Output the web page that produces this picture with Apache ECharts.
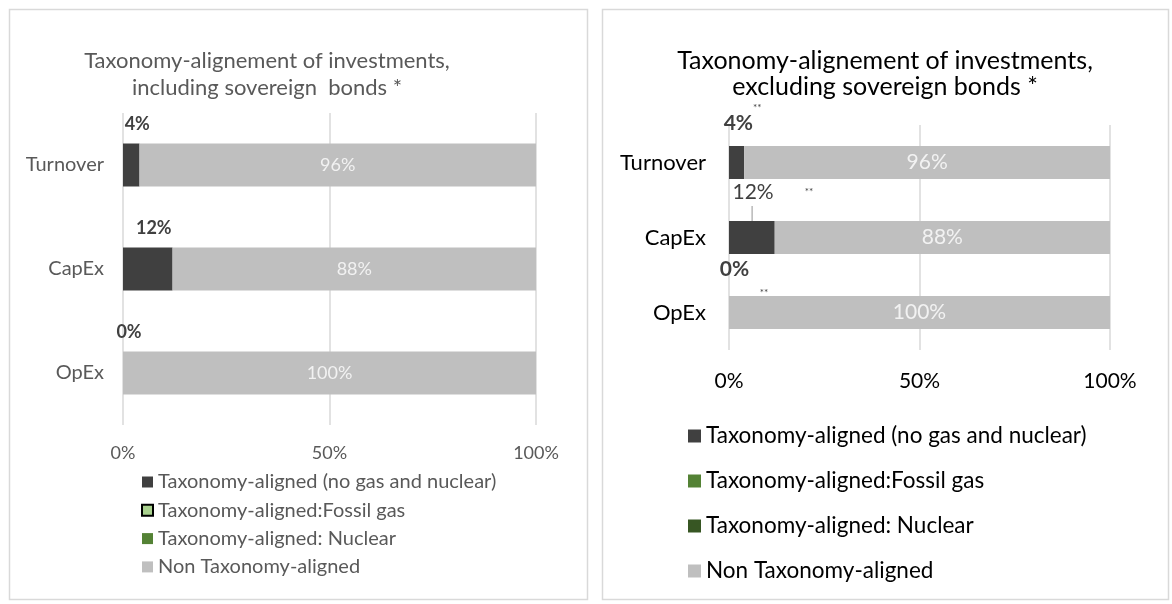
<!DOCTYPE html>
<html>
<head>
<meta charset="utf-8">
<script src="https://cdn.jsdelivr.net/npm/echarts@6/dist/echarts.min.js"></script>
<style>
  html, body { margin: 0; padding: 0; background: #fff; }
  #chart { width: 1172px; height: 604px; }
</style>
</head>
<body>
<div id="chart"></div>
<script>
// categories and values (percent)
var categories = ['Turnover', 'CapEx', 'OpEx'];
var seriesNames = ['Taxonomy-aligned (no gas and nuclear)', 'Taxonomy-aligned:Fossil gas',
    'Taxonomy-aligned: Nuclear', 'Non Taxonomy-aligned'];

var alignedIncl = [4, 12, 0];
var fossilIncl = [0, 0, 0];
var nuclearIncl = [0, 0, 0];
var nonAlignedIncl = [96, 88, 100];

var alignedExcl = [4, 12, 0];
var fossilExcl = [0, 0, 0];
var nuclearExcl = [0, 0, 0];
var nonAlignedExcl = [96, 88, 100];

// footnote marks written next to the right chart labels
var exclNotes = ['**', '**', '**'];

var xTicks = [0, 50, 100];

var titleIncl = 'Taxonomy-alignement of investments,\nincluding sovereign  bonds *';
var titleExcl = 'Taxonomy-alignement of investments,\nexcluding sovereign bonds *';

var FONT = 'Lato, "Open Sans", sans-serif';
var chart = echarts.init(document.getElementById('chart'));

function xAxis(gridIndex, size, color, margin) {
    return {
        type: 'value', gridIndex: gridIndex, min: xTicks[0], max: xTicks[xTicks.length - 1],
        interval: xTicks[1] - xTicks[0],
        axisLine: {show: false}, axisTick: {show: false},
        splitLine: {lineStyle: {color: '#d9d9d9', width: 1.5}},
        axisLabel: {formatter: '{value}%', fontFamily: FONT, fontSize: size, color: color, margin: margin}
    };
}

function yAxis(gridIndex, size, color, margin) {
    return {
        type: 'category', gridIndex: gridIndex, data: categories, inverse: true,
        axisLine: {show: false}, axisTick: {show: false},
        axisLabel: {fontFamily: FONT, fontSize: size, color: color, margin: margin}
    };
}

function bar(name, data, idx, color, width, label) {
    return {
        type: 'bar', name: name, data: data, stack: 's' + idx, xAxisIndex: idx, yAxisIndex: idx,
        barWidth: width, itemStyle: {color: color}, label: label || {show: false},
        silent: true, animation: false
    };
}

var grayLabelIncl = {show: true, position: 'inside', formatter: '{c}%', color: '#f2f2f2',
    fontFamily: FONT, fontSize: 18};
var grayLabelExcl = {show: true, position: 'inside', formatter: '{c}%', color: '#f2f2f2',
    fontFamily: FONT, fontSize: 21};

var darkLabelIncl = {show: true, position: 'top', distance: 10, offset: [6, 0], formatter: '{c}%',
    color: '#404040', fontWeight: 'bold', fontFamily: FONT, fontSize: 18};

// right chart labels: each one carries its footnote mark
var exclLabelOffsets = [[6, -3], [21, 0], [15, 9]];
var alignedExclData = alignedExcl.map(function (v, i) {
    return {value: v, label: {offset: exclLabelOffsets[i]}};
});
var darkLabelExcl = {
    show: true, position: 'top', distance: 0,
    formatter: function (p) {
        var n = exclNotes[p.dataIndex];
        if (p.dataIndex === 0) return '{b|' + p.value + '%}{sup|' + n + '}';
        if (p.dataIndex === 1) return '{r|' + p.value + '%}{mid|' + n + '}\n{sp|}{ln|}';
        return '{b2|' + p.value + '%}\n{sp2|}{low|' + n + '}';
    },
    rich: {
        b: {fontFamily: FONT, fontSize: 21, fontWeight: 'bold', color: '#404040', lineHeight: 40},
        b2: {fontFamily: FONT, fontSize: 21, fontWeight: 'bold', color: '#404040', lineHeight: 24, align: 'left'},
        r: {fontFamily: FONT, fontSize: 21, color: '#404040', lineHeight: 28},
        sup: {fontFamily: FONT, fontSize: 10, color: '#404040', verticalAlign: 'top', lineHeight: 12},
        mid: {fontFamily: FONT, fontSize: 10, color: '#404040', padding: [0, 0, 0, 31]},
        low: {fontFamily: FONT, fontSize: 10, color: '#404040', lineHeight: 24, align: 'left'},
        sp: {width: 19, height: 15, align: 'left'},
        ln: {width: 1.2, height: 15, backgroundColor: '#a6a6a6', align: 'left'},
        sp2: {width: 40, height: 24, align: 'left'}
    }
};

var option = {
    backgroundColor: '#fff',
    animation: false,
    graphic: [
        {type: 'rect', left: 7, top: 7, shape: {width: 578, height: 590},
            style: {fill: 'none', stroke: '#d9d9d9', lineWidth: 1.5}, z: -10},
        {type: 'rect', left: 600, top: 7, shape: {width: 566, height: 590},
            style: {fill: 'none', stroke: '#d9d9d9', lineWidth: 1.5}, z: -10}
    ],
    title: [
        {text: titleIncl, left: 262, top: 42, textAlign: 'center',
            textStyle: {fontFamily: FONT, fontSize: 22, fontWeight: 'normal', color: '#595959', lineHeight: 27}},
        {text: titleExcl, left: 880, top: 43, textAlign: 'center',
            textStyle: {fontFamily: FONT, fontSize: 25, fontWeight: 'normal', color: '#000', lineHeight: 26}}
    ],
    legend: [
        {
            orient: 'vertical', left: 136, top: 467, itemWidth: 11, itemHeight: 11, itemGap: 8.3,
            icon: 'rect', selectedMode: false,
            textStyle: {fontFamily: FONT, fontSize: 20, color: '#595959', lineHeight: 20},
            data: [
                {name: seriesNames[0]},
                {name: seriesNames[1], itemStyle: {color: '#a9d18e', borderColor: '#000', borderWidth: 2}},
                {name: seriesNames[2]},
                {name: seriesNames[3]}
            ]
        },
        {
            orient: 'vertical', left: 683, top: 419, itemWidth: 13, itemHeight: 13, itemGap: 21,
            icon: 'rect', selectedMode: false,
            textStyle: {fontFamily: FONT, fontSize: 22.5, color: '#000', lineHeight: 24},
            data: [
                {name: seriesNames[0], itemStyle: {color: '#404040'}},
                {name: seriesNames[1], itemStyle: {color: '#548235', borderWidth: 0}},
                {name: seriesNames[2], itemStyle: {color: '#375623'}},
                {name: seriesNames[3], itemStyle: {color: '#bfbfbf'}}
            ]
        }
    ],
    grid: [
        {left: 123, top: 113, width: 413, height: 312},
        {left: 729, top: 125, width: 381, height: 225}
    ],
    xAxis: [xAxis(0, 18, '#595959', 19), xAxis(1, 21, '#000', 21)],
    yAxis: [yAxis(0, 20, '#595959', 19), yAxis(1, 22, '#000', 23)],
    series: [
        bar(seriesNames[0], alignedIncl, 0, '#404040', 43, darkLabelIncl),
        bar(seriesNames[1], fossilIncl, 0, '#a9d18e', 43),
        bar(seriesNames[2], nuclearIncl, 0, '#548235', 43),
        bar(seriesNames[3], nonAlignedIncl, 0, '#bfbfbf', 43, grayLabelIncl),
        bar(seriesNames[0], alignedExclData, 1, '#404040', 33, darkLabelExcl),
        bar(seriesNames[1], fossilExcl, 1, '#548235', 33),
        bar(seriesNames[2], nuclearExcl, 1, '#375623', 33),
        bar(seriesNames[3], nonAlignedExcl, 1, '#bfbfbf', 33, grayLabelExcl)
    ]
};
chart.setOption(option);
</script>
</body>
</html>
